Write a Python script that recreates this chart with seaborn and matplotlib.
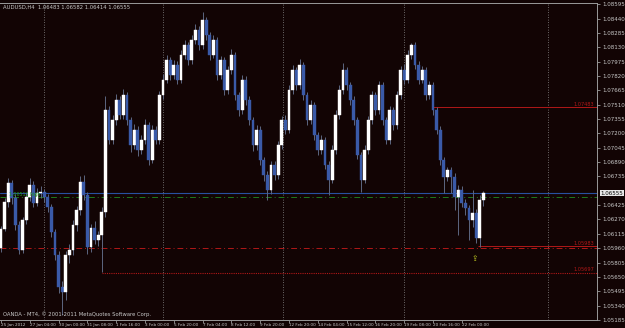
import matplotlib
matplotlib.use("Agg")
import matplotlib.pyplot as plt
import matplotlib.transforms as mtransforms
import seaborn as sns

# ---------------- data ----------------
symbol_title = "AUDUSD,H4  1.06483 1.06582 1.06414 1.06555"
copyright_text = "OANDA - MT4, \u00a9 2001-2011 MetaQuotes Software Corp."

opens = [1.0596, 1.0617, 1.0646, 1.0666, 1.0650, 1.0621, 1.0594, 1.0626, 1.0651, 1.0664,
         1.0645, 1.0656, 1.0657, 1.0651, 1.0640, 1.0613, 1.0589, 1.0554, 1.0549, 1.0589,
         1.0594, 1.0621, 1.0637, 1.0667, 1.0653, 1.0597, 1.0618, 1.0605, 1.0610, 1.0635,
         1.0745, 1.0713, 1.0734, 1.0756, 1.0740, 1.0761, 1.0734, 1.0707, 1.0724, 1.0702,
         1.0713, 1.0729, 1.0691, 1.0724, 1.0713, 1.0761, 1.0778, 1.0799, 1.0783, 1.0794,
         1.0778, 1.0805, 1.0815, 1.0799, 1.0821, 1.0832, 1.0815, 1.0842, 1.0826, 1.0805,
         1.0821, 1.0783, 1.0799, 1.0767, 1.0788, 1.0805, 1.0761, 1.0745, 1.0778, 1.0756,
         1.0734, 1.0707, 1.0724, 1.0691, 1.0675, 1.0659, 1.0686, 1.0675, 1.0707, 1.0734,
         1.0724, 1.0767, 1.0788, 1.0772, 1.0794, 1.0761, 1.0734, 1.0751, 1.0718, 1.0702,
         1.0713, 1.0686, 1.0670, 1.0702, 1.0740, 1.0767, 1.0788, 1.0772, 1.0756, 1.0734,
         1.0697, 1.0670, 1.0702, 1.0734, 1.0761, 1.0745, 1.0772, 1.0734, 1.0713, 1.0745,
         1.0729, 1.0761, 1.0788, 1.0778, 1.0805, 1.0815, 1.0794, 1.0778, 1.0788, 1.0761,
         1.0772, 1.0745, 1.0724, 1.0691, 1.0673, 1.0680, 1.0673, 1.0651, 1.0659, 1.0645,
         1.0639, 1.0626, 1.0634, 1.0607, 1.06483]

highs = [1.0620, 1.0650, 1.0672, 1.0670, 1.0654, 1.0625, 1.0630, 1.0656, 1.0672, 1.0668,
         1.0661, 1.0663, 1.0660, 1.0655, 1.0644, 1.0617, 1.0593, 1.0560, 1.0593, 1.0601,
         1.0626, 1.0642, 1.0674, 1.0675, 1.0657, 1.0622, 1.0625, 1.0615, 1.0640, 1.0760,
         1.0750, 1.0740, 1.0762, 1.0760, 1.0768, 1.0765, 1.0738, 1.0730, 1.0728, 1.0718,
         1.0735, 1.0732, 1.0729, 1.0728, 1.0766, 1.0784, 1.0805, 1.0803, 1.0799, 1.0798,
         1.0810, 1.0821, 1.0819, 1.0826, 1.0838, 1.0836, 1.0851, 1.0846, 1.0830, 1.0826,
         1.0824, 1.0804, 1.0802, 1.0793, 1.0811, 1.0808, 1.0765, 1.0783, 1.0782, 1.0760,
         1.0738, 1.0729, 1.0728, 1.0695, 1.0679, 1.0690, 1.0690, 1.0712, 1.0739, 1.0740,
         1.0772, 1.0794, 1.0792, 1.0800, 1.0797, 1.0765, 1.0756, 1.0754, 1.0722, 1.0718,
         1.0716, 1.0690, 1.0707, 1.0745, 1.0772, 1.0796, 1.0792, 1.0776, 1.0760, 1.0738,
         1.0700, 1.0707, 1.0739, 1.0766, 1.0765, 1.0777, 1.0776, 1.0738, 1.0750, 1.0749,
         1.0766, 1.0793, 1.0795, 1.0810, 1.0818, 1.0819, 1.0798, 1.0793, 1.0792, 1.0777,
         1.0776, 1.0749, 1.0728, 1.0695, 1.0684, 1.0684, 1.0677, 1.0664, 1.0663, 1.0649,
         1.0643, 1.0659, 1.0638, 1.0653, 1.06582]

lows = [1.0592, 1.0614, 1.0640, 1.0644, 1.0616, 1.0590, 1.0591, 1.0622, 1.0647, 1.0640,
        1.0641, 1.0650, 1.0646, 1.0635, 1.0608, 1.0583, 1.0548, 1.0524, 1.0540, 1.0580,
        1.0589, 1.0615, 1.0632, 1.0648, 1.0590, 1.0592, 1.0600, 1.0598, 1.0570, 1.0630,
        1.0708, 1.0709, 1.0729, 1.0735, 1.0736, 1.0729, 1.0700, 1.0703, 1.0696, 1.0698,
        1.0709, 1.0686, 1.0688, 1.0708, 1.0709, 1.0757, 1.0774, 1.0778, 1.0779, 1.0773,
        1.0774, 1.0800, 1.0794, 1.0795, 1.0817, 1.0810, 1.0811, 1.0821, 1.0799, 1.0801,
        1.0778, 1.0779, 1.0761, 1.0763, 1.0784, 1.0756, 1.0739, 1.0741, 1.0751, 1.0729,
        1.0701, 1.0702, 1.0686, 1.0669, 1.0648, 1.0655, 1.0670, 1.0671, 1.0703, 1.0719,
        1.0720, 1.0763, 1.0767, 1.0768, 1.0756, 1.0729, 1.0730, 1.0713, 1.0697, 1.0698,
        1.0681, 1.0653, 1.0666, 1.0698, 1.0736, 1.0763, 1.0767, 1.0751, 1.0729, 1.0692,
        1.0657, 1.0666, 1.0698, 1.0730, 1.0740, 1.0741, 1.0729, 1.0708, 1.0709, 1.0724,
        1.0725, 1.0757, 1.0773, 1.0774, 1.0800, 1.0789, 1.0773, 1.0774, 1.0756, 1.0757,
        1.0740, 1.0719, 1.0686, 1.0656, 1.0668, 1.0656, 1.0637, 1.0610, 1.0640, 1.0632,
        1.0605, 1.0619, 1.0602, 1.0597, 1.06414]

closes = [1.0617, 1.0646, 1.0666, 1.0650, 1.0621, 1.0594, 1.0626, 1.0651, 1.0664, 1.0645,
          1.0656, 1.0657, 1.0651, 1.0640, 1.0613, 1.0589, 1.0554, 1.0549, 1.0589, 1.0594,
          1.0621, 1.0637, 1.0667, 1.0653, 1.0597, 1.0618, 1.0605, 1.0610, 1.0635, 1.0745,
          1.0713, 1.0734, 1.0756, 1.0740, 1.0761, 1.0734, 1.0707, 1.0724, 1.0702, 1.0713,
          1.0729, 1.0691, 1.0724, 1.0713, 1.0761, 1.0778, 1.0799, 1.0783, 1.0794, 1.0778,
          1.0805, 1.0815, 1.0799, 1.0821, 1.0832, 1.0815, 1.0842, 1.0826, 1.0805, 1.0821,
          1.0783, 1.0799, 1.0767, 1.0788, 1.0805, 1.0761, 1.0745, 1.0778, 1.0756, 1.0734,
          1.0707, 1.0724, 1.0691, 1.0675, 1.0659, 1.0686, 1.0675, 1.0707, 1.0734, 1.0724,
          1.0767, 1.0788, 1.0772, 1.0794, 1.0761, 1.0734, 1.0751, 1.0718, 1.0702, 1.0713,
          1.0686, 1.0670, 1.0702, 1.0740, 1.0767, 1.0788, 1.0772, 1.0756, 1.0734, 1.0697,
          1.0670, 1.0702, 1.0734, 1.0761, 1.0745, 1.0772, 1.0734, 1.0713, 1.0745, 1.0729,
          1.0761, 1.0788, 1.0778, 1.0805, 1.0815, 1.0794, 1.0778, 1.0788, 1.0761, 1.0772,
          1.0745, 1.0724, 1.0691, 1.0673, 1.0680, 1.0673, 1.0651, 1.0659, 1.0645, 1.0639,
          1.0626, 1.0634, 1.0607, 1.06483, 1.06555]

date_labels = ["25 Jan 2012", "27 Jan 04:00", "30 Jan 00:00", "31 Jan 08:00", "1 Feb 16:00",
               "3 Feb 00:00", "5 Feb 20:00", "7 Feb 04:00", "8 Feb 12:00", "9 Feb 20:00",
               "12 Feb 20:00", "14 Feb 04:00", "15 Feb 12:00", "16 Feb 20:00", "19 Feb 08:00",
               "20 Feb 16:00", "22 Feb 00:00"]

price_tick_labels = ["1.08595", "1.08440", "1.08285", "1.08130", "1.07975", "1.07820",
                     "1.07665", "1.07510", "1.07355", "1.07200", "1.07045", "1.06890",
                     "1.06735", "1.06425", "1.06270", "1.06115", "1.05960", "1.05805",
                     "1.05650", "1.05495", "1.05340", "1.05185"]

current_price = 1.06555
green_level = 1.06512
red_dashdot_level = 1.05962
red_level_upper = 1.07483
red_level_lower = 1.05983
red_level_dotted = 1.05697
arrow_price = 1.0585

# ---------------- style ----------------
BG = "#120404"
FG = "#c8c8c8"
AXIS = "#9a9a9a"
BULL = "#ffffff"
BEAR = "#3a5aa8"
WICK = "#5d6780"
RED = "#b01818"

sns.set_theme(style="dark", rc={"axes.facecolor": BG, "figure.facecolor": BG})
plt.rcParams["font.family"] = ["DejaVu Sans"]

fig = plt.figure(figsize=(6.25, 3.28), dpi=100)
ax = fig.add_axes([0.0, 8 / 328, 597 / 625, 317 / 328])
ax.set_facecolor(BG)

n = len(closes)
xs = list(range(n))

# grid (dotted vertical)
for gx in [11.95, 45.0, 78.3, 111.9, 152.0]:
    ax.axvline(gx, color="#8a8a8a", lw=0.6, ls=(0, (1, 2)), zorder=1)

# level lines
ax.axhline(current_price, color="#2850a0", lw=0.8, zorder=2)
ax.axhline(green_level, color="#1e7a1e", lw=0.7, ls=(0, (6, 3, 1, 3)), zorder=2)
ax.axhline(red_dashdot_level, color=RED, lw=0.7, ls=(0, (6, 3, 1, 3)), zorder=2)
ax.hlines(red_level_upper, 120, 166, color=RED, lw=0.7, zorder=2)
ax.hlines(red_level_lower, 132.5, 166, color=RED, lw=0.7, zorder=2)
ax.hlines(red_level_dotted, 28, 166, color=RED, lw=0.8, ls=(0, (1, 1)), zorder=2)

# candles
wick_col = [WICK for _ in xs]
ax.vlines(xs, lows, highs, color=wick_col, lw=0.7, zorder=3)
body_col = [BULL if c >= o else BEAR for o, c in zip(opens, closes)]
heights = [max(abs(c - o), 0.00004) for o, c in zip(opens, closes)]
bottoms = [min(o, c) for o, c in zip(opens, closes)]
ax.bar(xs, heights, bottom=bottoms, width=0.75, color=body_col, edgecolor=body_col,
       linewidth=0.3, zorder=4)

# arrow marker
ax.text(131.6, arrow_price, "\u21ea", color="#b8c020", fontsize=5.5,
        ha="center", va="center", zorder=5)

# axes limits
ax.set_xlim(-0.28, 165.56)
ax.set_ylim(1.05184, 1.08608)

# y ticks on right
ax.yaxis.tick_right()
ax.set_yticks([float(t) for t in price_tick_labels])
ax.set_yticklabels(price_tick_labels)
ax.tick_params(axis="y", colors=AXIS, labelcolor=FG, labelsize=4.0, length=2.5,
               width=0.6, pad=1.5, right=True, left=False)

# x ticks
ax.set_xticks([8 * k for k in range(len(date_labels))])
ax.set_xticklabels(date_labels)
for lbl in ax.get_xticklabels():
    lbl.set_horizontalalignment("left")
ax.tick_params(axis="x", colors=AXIS, labelcolor=FG, labelsize=3.0, length=2.0,
               width=0.6, pad=0.3, bottom=True)
ax.grid(False)

for side in ["top", "bottom", "right", "left"]:
    ax.spines[side].set_color(AXIS)
    ax.spines[side].set_linewidth(0.7)
ax.spines["left"].set_visible(False)

# texts
ax.text(0.005, 0.995, symbol_title, transform=ax.transAxes, color=FG, fontsize=3.8,
        ha="left", va="top")
ax.text(0.005, 0.008, copyright_text, transform=ax.transAxes, color=FG, fontsize=3.8,
        ha="left", va="bottom")

tr = mtransforms.blended_transform_factory(ax.transAxes, ax.transData)
ax.text(1.006, current_price, f"{current_price:.5f}", transform=tr, color="#000000",
        fontsize=4.0, ha="left", va="center", clip_on=False,
        bbox=dict(boxstyle="square,pad=0.15", fc="#e8e8e8", ec="none"), zorder=6)

for lvl in [red_level_upper, red_level_lower, red_level_dotted]:
    ax.text(164.8, lvl + 0.00003, f"{lvl:.5f}", color=RED, fontsize=3.6,
            ha="right", va="bottom", zorder=6)

ax.text(2.2, green_level + 0.00005, f"{green_level:.5f} high", color="#1e9a1e",
        fontsize=3.4, ha="left", va="bottom", zorder=6)

fig.savefig("out.png", dpi=100, facecolor=BG)
